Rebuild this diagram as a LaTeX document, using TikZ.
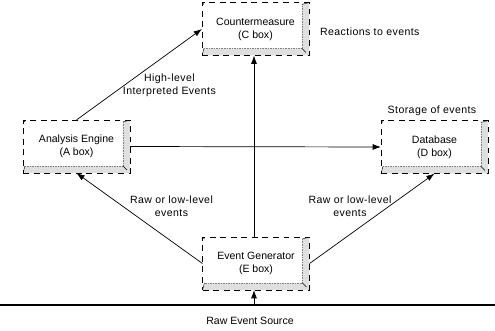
\documentclass[tikz,border=0pt]{standalone}
\usepackage{fontspec}
\setmainfont{Liberation Sans}
\newfontfamily\notefont[LetterSpace=4]{Liberation Sans}
\usetikzlibrary{arrows.meta}

\begin{document}
\begin{tikzpicture}[x=0.03cm,y=-0.03cm,
    unitbox/.style={draw,dash pattern=on 5pt off 4pt,thin,align=center,
      minimum width=3.2cm,minimum height=1.58cm,font=\small,
      path picture={
        \path (path picture bounding box.north east) coordinate (o1)
              (path picture bounding box.south east) coordinate (o2)
              (path picture bounding box.south west) coordinate (o3)
              (path picture bounding box.north west) coordinate (o4);
        \path ([shift={(-6pt,-1.5pt)}]o1) coordinate (i1)
              ([shift={(-6pt,6pt)}]o2) coordinate (i2)
              ([shift={(1.5pt,6pt)}]o3) coordinate (i3)
              ([shift={(1.5pt,-1.5pt)}]o4) coordinate (i4);
        \fill[gray!25] (o1) -- (o2) -- (o3) -- (i3) -- (i2) -- (i1) -- cycle;
        \draw[gray,densely dotted] (i1) -- (i2) -- (i3);
        \draw[thin] (i1) -- (o1) (i2) -- (o2) (i3) -- (o3) (i4) -- (o4);
      }},
    flow/.style={-{Latex[length=7pt,width=5pt]},semithick},
    note/.style={font=\small\notefont,align=center}]
                \useasboundingbox (0,0) rectangle (495,331);
                % the four boxes
                \node[unitbox] (cbox) at (255.5,29) {Countermeasure\\(C box)};
                \node[unitbox] (abox) at (76.5,146.5) {Analysis Engine\\(A box)};
                \node[unitbox] (dbox) at (434.5,147) {Database\\(D box)};
                \node[unitbox] (ebox) at (256,263.5) {Event Generator\\(E box)};
                % raw source
                \coordinate (srcl) at (0,305);
                \coordinate (srcr) at (495,305);
                \coordinate (src) at (254,305);
                \draw[very thick] (srcl) -- (srcr);
                \node[font=\small] (srclabel) at (250,321) {Raw Event Source};
                \node[note,right] (react) at (316,32) {Reactions to events};
                \node[note] (store) at (432,111) {Storage of events};
                % connectors
                \draw[flow] (src) -- (ebox.south -| src);
                \draw[flow] (ebox.north -| src) -- (cbox.south -| src);
                \draw[flow] (abox.east) -- (dbox.west);
                \draw[flow] (abox.north) -- node[note,pos=0.6,xshift=0.53cm,yshift=-0.59cm]{High-level\\Interpreted Events} (cbox.west);
                \draw[flow] (ebox.west) -- node[note,pos=0.5,xshift=0.96cm,yshift=0.36cm]{Raw or low-level\\events} (abox.south);
                \draw[flow] (ebox.east) -- node[note,pos=0.5,xshift=-0.66cm,yshift=0.36cm]{Raw or low-level\\events} (dbox.south);
            \end{tikzpicture}
\end{document}
